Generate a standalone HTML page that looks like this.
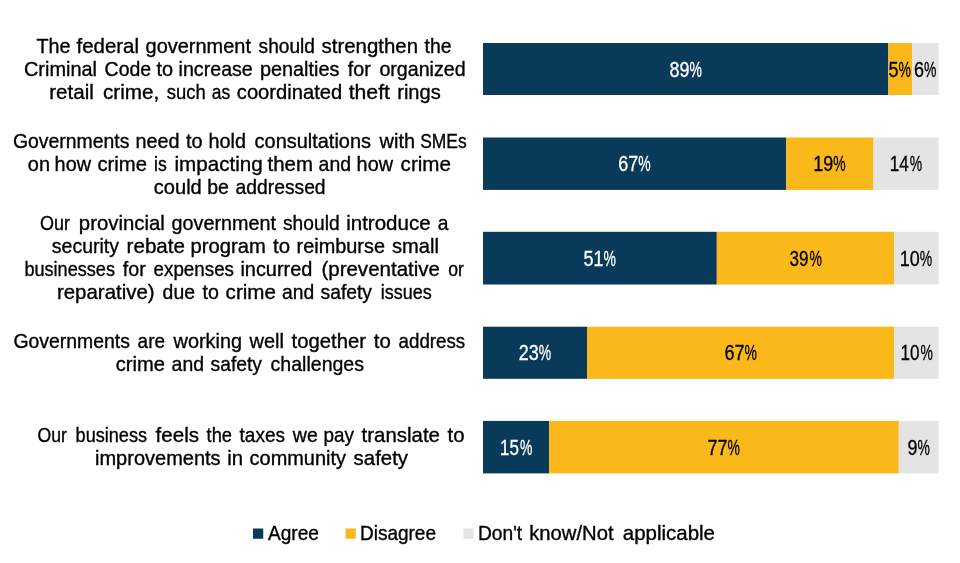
<!DOCTYPE html><html><head><meta charset="utf-8"><style>html,body{margin:0;padding:0;background:#fff;width:960px;height:563px;overflow:hidden}svg{display:block;will-change:transform}text{font-family:"Liberation Sans",sans-serif}</style></head><body>
<svg width="960" height="563" viewBox="0 0 960 563">
<rect x="483.00" y="43" width="405.30" height="52.00" fill="#0a3a5a"/>
<rect x="888.30" y="43" width="23.80" height="52.00" fill="#fbb81a"/>
<rect x="912.10" y="43" width="26.40" height="52.00" fill="#e4e4e4"/>
<rect x="483.00" y="137.5" width="303.25" height="52.40" fill="#0a3a5a"/>
<rect x="786.25" y="137.5" width="87.25" height="52.40" fill="#fbb81a"/>
<rect x="873.50" y="137.5" width="65.00" height="52.40" fill="#e4e4e4"/>
<rect x="483.00" y="231.8" width="233.80" height="52.70" fill="#0a3a5a"/>
<rect x="716.80" y="231.8" width="177.20" height="52.70" fill="#fbb81a"/>
<rect x="894.00" y="231.8" width="44.50" height="52.70" fill="#e4e4e4"/>
<rect x="483.00" y="326.7" width="104.00" height="52.10" fill="#0a3a5a"/>
<rect x="587.00" y="326.7" width="307.30" height="52.10" fill="#fbb81a"/>
<rect x="894.30" y="326.7" width="44.20" height="52.10" fill="#e4e4e4"/>
<rect x="483.00" y="420.9" width="66.10" height="52.50" fill="#0a3a5a"/>
<rect x="549.10" y="420.9" width="349.70" height="52.50" fill="#fbb81a"/>
<rect x="898.80" y="420.9" width="39.70" height="52.50" fill="#e4e4e4"/>
<rect x="253" y="528.5" width="10.25" height="10.25" fill="#0a3a5a"/>
<rect x="345.5" y="528.5" width="10.25" height="10.25" fill="#fbb81a"/>
<rect x="463.25" y="528.5" width="10.25" height="10.25" fill="#e4e4e4"/>
<text x="36.50" y="52.90" font-size="19.8" fill="#000000" stroke="#000000" stroke-width="0.35" textLength="34.00" lengthAdjust="spacingAndGlyphs">The</text>
<text x="76.60" y="52.90" font-size="19.8" fill="#000000" stroke="#000000" stroke-width="0.35" textLength="62.40" lengthAdjust="spacingAndGlyphs">federal</text>
<text x="145.60" y="52.90" font-size="19.8" fill="#000000" stroke="#000000" stroke-width="0.35" textLength="105.40" lengthAdjust="spacingAndGlyphs">government</text>
<text x="258.60" y="52.90" font-size="19.8" fill="#000000" stroke="#000000" stroke-width="0.35" textLength="56.40" lengthAdjust="spacingAndGlyphs">should</text>
<text x="321.60" y="52.90" font-size="19.8" fill="#000000" stroke="#000000" stroke-width="0.35" textLength="96.40" lengthAdjust="spacingAndGlyphs">strengthen</text>
<text x="424.50" y="52.90" font-size="19.8" fill="#000000" stroke="#000000" stroke-width="0.35" textLength="27.00" lengthAdjust="spacingAndGlyphs">the</text>
<text x="24.00" y="75.90" font-size="19.8" fill="#000000" stroke="#000000" stroke-width="0.35" textLength="73.00" lengthAdjust="spacingAndGlyphs">Criminal</text>
<text x="104.60" y="75.90" font-size="19.8" fill="#000000" stroke="#000000" stroke-width="0.35" textLength="46.60" lengthAdjust="spacingAndGlyphs">Code</text>
<text x="156.60" y="75.90" font-size="19.8" fill="#000000" stroke="#000000" stroke-width="0.35" textLength="16.60" lengthAdjust="spacingAndGlyphs">to</text>
<text x="178.60" y="75.90" font-size="19.8" fill="#000000" stroke="#000000" stroke-width="0.35" textLength="74.20" lengthAdjust="spacingAndGlyphs">increase</text>
<text x="260.00" y="75.90" font-size="19.8" fill="#000000" stroke="#000000" stroke-width="0.35" textLength="79.40" lengthAdjust="spacingAndGlyphs">penalties</text>
<text x="347.80" y="75.90" font-size="19.8" fill="#000000" stroke="#000000" stroke-width="0.35" textLength="23.00" lengthAdjust="spacingAndGlyphs">for</text>
<text x="379.40" y="75.90" font-size="19.8" fill="#000000" stroke="#000000" stroke-width="0.35" textLength="86.20" lengthAdjust="spacingAndGlyphs">organized</text>
<text x="49.22" y="98.90" font-size="19.8" fill="#000000" stroke="#000000" stroke-width="0.35" textLength="44.56" lengthAdjust="spacingAndGlyphs">retail</text>
<text x="103.04" y="98.90" font-size="19.8" fill="#000000" stroke="#000000" stroke-width="0.35" textLength="56.32" lengthAdjust="spacingAndGlyphs">crime,</text>
<text x="166.80" y="98.90" font-size="19.8" fill="#000000" stroke="#000000" stroke-width="0.35" textLength="39.00" lengthAdjust="spacingAndGlyphs">such</text>
<text x="211.80" y="98.90" font-size="19.8" fill="#000000" stroke="#000000" stroke-width="0.35" textLength="18.40" lengthAdjust="spacingAndGlyphs">as</text>
<text x="236.80" y="98.90" font-size="19.8" fill="#000000" stroke="#000000" stroke-width="0.35" textLength="105.40" lengthAdjust="spacingAndGlyphs">coordinated</text>
<text x="348.68" y="98.90" font-size="19.8" fill="#000000" stroke="#000000" stroke-width="0.35" textLength="41.24" lengthAdjust="spacingAndGlyphs">theft</text>
<text x="397.22" y="98.90" font-size="19.8" fill="#000000" stroke="#000000" stroke-width="0.35" textLength="43.56" lengthAdjust="spacingAndGlyphs">rings</text>
<text x="13.00" y="147.50" font-size="19.8" fill="#000000" stroke="#000000" stroke-width="0.35" textLength="116.40" lengthAdjust="spacingAndGlyphs">Governments</text>
<text x="135.60" y="147.50" font-size="19.8" fill="#000000" stroke="#000000" stroke-width="0.35" textLength="44.00" lengthAdjust="spacingAndGlyphs">need</text>
<text x="186.00" y="147.50" font-size="19.8" fill="#000000" stroke="#000000" stroke-width="0.35" textLength="16.60" lengthAdjust="spacingAndGlyphs">to</text>
<text x="208.60" y="147.50" font-size="19.8" fill="#000000" stroke="#000000" stroke-width="0.35" textLength="37.40" lengthAdjust="spacingAndGlyphs">hold</text>
<text x="254.60" y="147.50" font-size="19.8" fill="#000000" stroke="#000000" stroke-width="0.35" textLength="116.40" lengthAdjust="spacingAndGlyphs">consultations</text>
<text x="379.60" y="147.50" font-size="19.8" fill="#000000" stroke="#000000" stroke-width="0.35" textLength="35.40" lengthAdjust="spacingAndGlyphs">with</text>
<text x="420.14" y="147.50" font-size="19.8" fill="#000000" stroke="#000000" stroke-width="0.35" textLength="46.52" lengthAdjust="spacingAndGlyphs">SMEs</text>
<text x="27.80" y="170.70" font-size="19.8" fill="#000000" stroke="#000000" stroke-width="0.35" textLength="22.20" lengthAdjust="spacingAndGlyphs">on</text>
<text x="54.60" y="170.70" font-size="19.8" fill="#000000" stroke="#000000" stroke-width="0.35" textLength="36.40" lengthAdjust="spacingAndGlyphs">how</text>
<text x="97.40" y="170.70" font-size="19.8" fill="#000000" stroke="#000000" stroke-width="0.35" textLength="49.60" lengthAdjust="spacingAndGlyphs">crime</text>
<text x="154.12" y="170.70" font-size="19.8" fill="#000000" stroke="#000000" stroke-width="0.35" textLength="12.76" lengthAdjust="spacingAndGlyphs">is</text>
<text x="174.54" y="170.70" font-size="19.8" fill="#000000" stroke="#000000" stroke-width="0.35" textLength="88.12" lengthAdjust="spacingAndGlyphs">impacting</text>
<text x="267.60" y="170.70" font-size="19.8" fill="#000000" stroke="#000000" stroke-width="0.35" textLength="45.40" lengthAdjust="spacingAndGlyphs">them</text>
<text x="318.60" y="170.70" font-size="19.8" fill="#000000" stroke="#000000" stroke-width="0.35" textLength="32.40" lengthAdjust="spacingAndGlyphs">and</text>
<text x="356.60" y="170.70" font-size="19.8" fill="#000000" stroke="#000000" stroke-width="0.35" textLength="36.40" lengthAdjust="spacingAndGlyphs">how</text>
<text x="400.60" y="170.70" font-size="19.8" fill="#000000" stroke="#000000" stroke-width="0.35" textLength="50.40" lengthAdjust="spacingAndGlyphs">crime</text>
<text x="153.80" y="193.50" font-size="19.8" fill="#000000" stroke="#000000" stroke-width="0.35" textLength="48.00" lengthAdjust="spacingAndGlyphs">could</text>
<text x="207.20" y="193.50" font-size="19.8" fill="#000000" stroke="#000000" stroke-width="0.35" textLength="21.60" lengthAdjust="spacingAndGlyphs">be</text>
<text x="235.60" y="193.50" font-size="19.8" fill="#000000" stroke="#000000" stroke-width="0.35" textLength="90.00" lengthAdjust="spacingAndGlyphs">addressed</text>
<text x="40.00" y="230.40" font-size="19.8" fill="#000000" stroke="#000000" stroke-width="0.35" textLength="30.00" lengthAdjust="spacingAndGlyphs">Our</text>
<text x="78.82" y="230.40" font-size="19.8" fill="#000000" stroke="#000000" stroke-width="0.35" textLength="85.96" lengthAdjust="spacingAndGlyphs">provincial</text>
<text x="171.60" y="230.40" font-size="19.8" fill="#000000" stroke="#000000" stroke-width="0.35" textLength="104.40" lengthAdjust="spacingAndGlyphs">government</text>
<text x="283.00" y="230.40" font-size="19.8" fill="#000000" stroke="#000000" stroke-width="0.35" textLength="56.60" lengthAdjust="spacingAndGlyphs">should</text>
<text x="346.20" y="230.40" font-size="19.8" fill="#000000" stroke="#000000" stroke-width="0.35" textLength="84.40" lengthAdjust="spacingAndGlyphs">introduce</text>
<text x="437.64" y="230.40" font-size="19.8" fill="#000000" stroke="#000000" stroke-width="0.35" textLength="10.72" lengthAdjust="spacingAndGlyphs">a</text>
<text x="51.80" y="253.40" font-size="19.8" fill="#000000" stroke="#000000" stroke-width="0.35" textLength="67.20" lengthAdjust="spacingAndGlyphs">security</text>
<text x="126.60" y="253.40" font-size="19.8" fill="#000000" stroke="#000000" stroke-width="0.35" textLength="58.40" lengthAdjust="spacingAndGlyphs">rebate</text>
<text x="190.60" y="253.40" font-size="19.8" fill="#000000" stroke="#000000" stroke-width="0.35" textLength="75.20" lengthAdjust="spacingAndGlyphs">program</text>
<text x="273.00" y="253.40" font-size="19.8" fill="#000000" stroke="#000000" stroke-width="0.35" textLength="17.00" lengthAdjust="spacingAndGlyphs">to</text>
<text x="296.60" y="253.40" font-size="19.8" fill="#000000" stroke="#000000" stroke-width="0.35" textLength="88.40" lengthAdjust="spacingAndGlyphs">reimburse</text>
<text x="392.00" y="253.40" font-size="19.8" fill="#000000" stroke="#000000" stroke-width="0.35" textLength="47.00" lengthAdjust="spacingAndGlyphs">small</text>
<text x="24.40" y="276.20" font-size="19.8" fill="#000000" stroke="#000000" stroke-width="0.35" textLength="90.60" lengthAdjust="spacingAndGlyphs">businesses</text>
<text x="122.80" y="276.20" font-size="19.8" fill="#000000" stroke="#000000" stroke-width="0.35" textLength="23.00" lengthAdjust="spacingAndGlyphs">for</text>
<text x="153.60" y="276.20" font-size="19.8" fill="#000000" stroke="#000000" stroke-width="0.35" textLength="80.40" lengthAdjust="spacingAndGlyphs">expenses</text>
<text x="240.40" y="276.20" font-size="19.8" fill="#000000" stroke="#000000" stroke-width="0.35" textLength="72.00" lengthAdjust="spacingAndGlyphs">incurred</text>
<text x="321.40" y="276.20" font-size="19.8" fill="#000000" stroke="#000000" stroke-width="0.35" textLength="118.60" lengthAdjust="spacingAndGlyphs">(preventative</text>
<text x="448.20" y="276.20" font-size="19.8" fill="#000000" stroke="#000000" stroke-width="0.35" textLength="15.60" lengthAdjust="spacingAndGlyphs">or</text>
<text x="56.94" y="299.20" font-size="19.8" fill="#000000" stroke="#000000" stroke-width="0.35" textLength="97.72" lengthAdjust="spacingAndGlyphs">reparative)</text>
<text x="162.60" y="299.20" font-size="19.8" fill="#000000" stroke="#000000" stroke-width="0.35" textLength="32.40" lengthAdjust="spacingAndGlyphs">due</text>
<text x="202.60" y="299.20" font-size="19.8" fill="#000000" stroke="#000000" stroke-width="0.35" textLength="16.40" lengthAdjust="spacingAndGlyphs">to</text>
<text x="225.60" y="299.20" font-size="19.8" fill="#000000" stroke="#000000" stroke-width="0.35" textLength="50.40" lengthAdjust="spacingAndGlyphs">crime</text>
<text x="282.00" y="299.20" font-size="19.8" fill="#000000" stroke="#000000" stroke-width="0.35" textLength="32.20" lengthAdjust="spacingAndGlyphs">and</text>
<text x="320.60" y="299.20" font-size="19.8" fill="#000000" stroke="#000000" stroke-width="0.35" textLength="51.40" lengthAdjust="spacingAndGlyphs">safety</text>
<text x="380.80" y="299.20" font-size="19.8" fill="#000000" stroke="#000000" stroke-width="0.35" textLength="51.00" lengthAdjust="spacingAndGlyphs">issues</text>
<text x="13.40" y="347.60" font-size="19.8" fill="#000000" stroke="#000000" stroke-width="0.35" textLength="116.60" lengthAdjust="spacingAndGlyphs">Governments</text>
<text x="137.60" y="347.60" font-size="19.8" fill="#000000" stroke="#000000" stroke-width="0.35" textLength="27.40" lengthAdjust="spacingAndGlyphs">are</text>
<text x="173.60" y="347.60" font-size="19.8" fill="#000000" stroke="#000000" stroke-width="0.35" textLength="68.40" lengthAdjust="spacingAndGlyphs">working</text>
<text x="249.60" y="347.60" font-size="19.8" fill="#000000" stroke="#000000" stroke-width="0.35" textLength="34.40" lengthAdjust="spacingAndGlyphs">well</text>
<text x="291.60" y="347.60" font-size="19.8" fill="#000000" stroke="#000000" stroke-width="0.35" textLength="74.40" lengthAdjust="spacingAndGlyphs">together</text>
<text x="373.80" y="347.60" font-size="19.8" fill="#000000" stroke="#000000" stroke-width="0.35" textLength="17.00" lengthAdjust="spacingAndGlyphs">to</text>
<text x="398.60" y="347.60" font-size="19.8" fill="#000000" stroke="#000000" stroke-width="0.35" textLength="66.60" lengthAdjust="spacingAndGlyphs">address</text>
<text x="115.80" y="370.90" font-size="19.8" fill="#000000" stroke="#000000" stroke-width="0.35" textLength="49.20" lengthAdjust="spacingAndGlyphs">crime</text>
<text x="171.60" y="370.90" font-size="19.8" fill="#000000" stroke="#000000" stroke-width="0.35" textLength="32.40" lengthAdjust="spacingAndGlyphs">and</text>
<text x="210.60" y="370.90" font-size="19.8" fill="#000000" stroke="#000000" stroke-width="0.35" textLength="51.40" lengthAdjust="spacingAndGlyphs">safety</text>
<text x="270.60" y="370.90" font-size="19.8" fill="#000000" stroke="#000000" stroke-width="0.35" textLength="93.40" lengthAdjust="spacingAndGlyphs">challenges</text>
<text x="37.60" y="442.30" font-size="19.8" fill="#000000" stroke="#000000" stroke-width="0.35" textLength="29.40" lengthAdjust="spacingAndGlyphs">Our</text>
<text x="75.60" y="442.30" font-size="19.8" fill="#000000" stroke="#000000" stroke-width="0.35" textLength="71.40" lengthAdjust="spacingAndGlyphs">business</text>
<text x="155.60" y="442.30" font-size="19.8" fill="#000000" stroke="#000000" stroke-width="0.35" textLength="43.40" lengthAdjust="spacingAndGlyphs">feels</text>
<text x="206.60" y="442.30" font-size="19.8" fill="#000000" stroke="#000000" stroke-width="0.35" textLength="25.40" lengthAdjust="spacingAndGlyphs">the</text>
<text x="239.60" y="442.30" font-size="19.8" fill="#000000" stroke="#000000" stroke-width="0.35" textLength="45.40" lengthAdjust="spacingAndGlyphs">taxes</text>
<text x="292.80" y="442.30" font-size="19.8" fill="#000000" stroke="#000000" stroke-width="0.35" textLength="25.00" lengthAdjust="spacingAndGlyphs">we</text>
<text x="323.60" y="442.30" font-size="19.8" fill="#000000" stroke="#000000" stroke-width="0.35" textLength="30.40" lengthAdjust="spacingAndGlyphs">pay</text>
<text x="361.60" y="442.30" font-size="19.8" fill="#000000" stroke="#000000" stroke-width="0.35" textLength="78.40" lengthAdjust="spacingAndGlyphs">translate</text>
<text x="447.50" y="442.30" font-size="19.8" fill="#000000" stroke="#000000" stroke-width="0.35" textLength="17.00" lengthAdjust="spacingAndGlyphs">to</text>
<text x="95.00" y="464.90" font-size="19.8" fill="#000000" stroke="#000000" stroke-width="0.35" textLength="125.60" lengthAdjust="spacingAndGlyphs">improvements</text>
<text x="227.20" y="464.90" font-size="19.8" fill="#000000" stroke="#000000" stroke-width="0.35" textLength="15.80" lengthAdjust="spacingAndGlyphs">in</text>
<text x="249.60" y="464.90" font-size="19.8" fill="#000000" stroke="#000000" stroke-width="0.35" textLength="96.40" lengthAdjust="spacingAndGlyphs">community</text>
<text x="353.60" y="464.90" font-size="19.8" fill="#000000" stroke="#000000" stroke-width="0.35" textLength="54.40" lengthAdjust="spacingAndGlyphs">safety</text>
<text x="268.00" y="539.75" font-size="19.8" fill="#000000" stroke="#000000" stroke-width="0.35" textLength="51.00" lengthAdjust="spacingAndGlyphs">Agree</text>
<text x="360.00" y="539.75" font-size="19.8" fill="#000000" stroke="#000000" stroke-width="0.35" textLength="76.00" lengthAdjust="spacingAndGlyphs">Disagree</text>
<text x="478.00" y="539.75" font-size="19.8" fill="#000000" stroke="#000000" stroke-width="0.35" textLength="44.20" lengthAdjust="spacingAndGlyphs">Don't</text>
<text x="529.20" y="539.75" font-size="19.8" fill="#000000" stroke="#000000" stroke-width="0.35" textLength="84.40" lengthAdjust="spacingAndGlyphs">know/Not</text>
<text x="622.80" y="539.75" font-size="19.8" fill="#000000" stroke="#000000" stroke-width="0.35" textLength="92.20" lengthAdjust="spacingAndGlyphs">applicable</text>
<text x="669.40" y="76.60" font-size="21.2" fill="#ffffff" stroke="#ffffff" stroke-width="0.3" textLength="20.00" lengthAdjust="spacingAndGlyphs">89</text>
<text x="689.40" y="76.60" font-size="21.2" fill="#ffffff" stroke="#ffffff" stroke-width="0.3" textLength="12.40" lengthAdjust="spacingAndGlyphs">%</text>
<text x="888.60" y="76.60" font-size="21.2" fill="#000000" stroke="#000000" stroke-width="0.3" textLength="10.00" lengthAdjust="spacingAndGlyphs">5</text>
<text x="898.60" y="76.60" font-size="21.2" fill="#000000" stroke="#000000" stroke-width="0.3" textLength="12.40" lengthAdjust="spacingAndGlyphs">%</text>
<text x="914.00" y="76.60" font-size="21.2" fill="#000000" stroke="#000000" stroke-width="0.3" textLength="10.00" lengthAdjust="spacingAndGlyphs">6</text>
<text x="924.00" y="76.60" font-size="21.2" fill="#000000" stroke="#000000" stroke-width="0.3" textLength="12.40" lengthAdjust="spacingAndGlyphs">%</text>
<text x="618.30" y="171.30" font-size="21.2" fill="#ffffff" stroke="#ffffff" stroke-width="0.3" textLength="20.00" lengthAdjust="spacingAndGlyphs">67</text>
<text x="638.30" y="171.30" font-size="21.2" fill="#ffffff" stroke="#ffffff" stroke-width="0.3" textLength="12.40" lengthAdjust="spacingAndGlyphs">%</text>
<text x="813.30" y="171.30" font-size="21.2" fill="#000000" stroke="#000000" stroke-width="0.3" textLength="20.00" lengthAdjust="spacingAndGlyphs">19</text>
<text x="833.30" y="171.30" font-size="21.2" fill="#000000" stroke="#000000" stroke-width="0.3" textLength="12.40" lengthAdjust="spacingAndGlyphs">%</text>
<text x="889.80" y="171.30" font-size="21.2" fill="#000000" stroke="#000000" stroke-width="0.3" textLength="19.00" lengthAdjust="spacingAndGlyphs">14</text>
<text x="909.80" y="171.30" font-size="21.2" fill="#000000" stroke="#000000" stroke-width="0.3" textLength="12.40" lengthAdjust="spacingAndGlyphs">%</text>
<text x="583.40" y="265.75" font-size="21.2" fill="#ffffff" stroke="#ffffff" stroke-width="0.3" textLength="20.00" lengthAdjust="spacingAndGlyphs">51</text>
<text x="603.40" y="265.75" font-size="21.2" fill="#ffffff" stroke="#ffffff" stroke-width="0.3" textLength="12.40" lengthAdjust="spacingAndGlyphs">%</text>
<text x="789.40" y="265.75" font-size="21.2" fill="#000000" stroke="#000000" stroke-width="0.3" textLength="19.00" lengthAdjust="spacingAndGlyphs">39</text>
<text x="809.40" y="265.75" font-size="21.2" fill="#000000" stroke="#000000" stroke-width="0.3" textLength="12.40" lengthAdjust="spacingAndGlyphs">%</text>
<text x="899.80" y="265.75" font-size="21.2" fill="#000000" stroke="#000000" stroke-width="0.3" textLength="20.00" lengthAdjust="spacingAndGlyphs">10</text>
<text x="919.80" y="265.75" font-size="21.2" fill="#000000" stroke="#000000" stroke-width="0.3" textLength="12.40" lengthAdjust="spacingAndGlyphs">%</text>
<text x="518.80" y="360.35" font-size="21.2" fill="#ffffff" stroke="#ffffff" stroke-width="0.3" textLength="20.00" lengthAdjust="spacingAndGlyphs">23</text>
<text x="538.80" y="360.35" font-size="21.2" fill="#ffffff" stroke="#ffffff" stroke-width="0.3" textLength="12.40" lengthAdjust="spacingAndGlyphs">%</text>
<text x="724.40" y="360.35" font-size="21.2" fill="#000000" stroke="#000000" stroke-width="0.3" textLength="20.00" lengthAdjust="spacingAndGlyphs">67</text>
<text x="744.40" y="360.35" font-size="21.2" fill="#000000" stroke="#000000" stroke-width="0.3" textLength="12.40" lengthAdjust="spacingAndGlyphs">%</text>
<text x="900.40" y="360.35" font-size="21.2" fill="#000000" stroke="#000000" stroke-width="0.3" textLength="19.00" lengthAdjust="spacingAndGlyphs">10</text>
<text x="920.40" y="360.35" font-size="21.2" fill="#000000" stroke="#000000" stroke-width="0.3" textLength="12.40" lengthAdjust="spacingAndGlyphs">%</text>
<text x="500.00" y="454.75" font-size="21.2" fill="#ffffff" stroke="#ffffff" stroke-width="0.3" textLength="19.00" lengthAdjust="spacingAndGlyphs">15</text>
<text x="520.00" y="454.75" font-size="21.2" fill="#ffffff" stroke="#ffffff" stroke-width="0.3" textLength="12.40" lengthAdjust="spacingAndGlyphs">%</text>
<text x="707.60" y="454.75" font-size="21.2" fill="#000000" stroke="#000000" stroke-width="0.3" textLength="20.00" lengthAdjust="spacingAndGlyphs">77</text>
<text x="727.60" y="454.75" font-size="21.2" fill="#000000" stroke="#000000" stroke-width="0.3" textLength="12.40" lengthAdjust="spacingAndGlyphs">%</text>
<text x="907.40" y="454.75" font-size="21.2" fill="#000000" stroke="#000000" stroke-width="0.3" textLength="10.00" lengthAdjust="spacingAndGlyphs">9</text>
<text x="917.40" y="454.75" font-size="21.2" fill="#000000" stroke="#000000" stroke-width="0.3" textLength="12.40" lengthAdjust="spacingAndGlyphs">%</text>
</svg></body></html>
